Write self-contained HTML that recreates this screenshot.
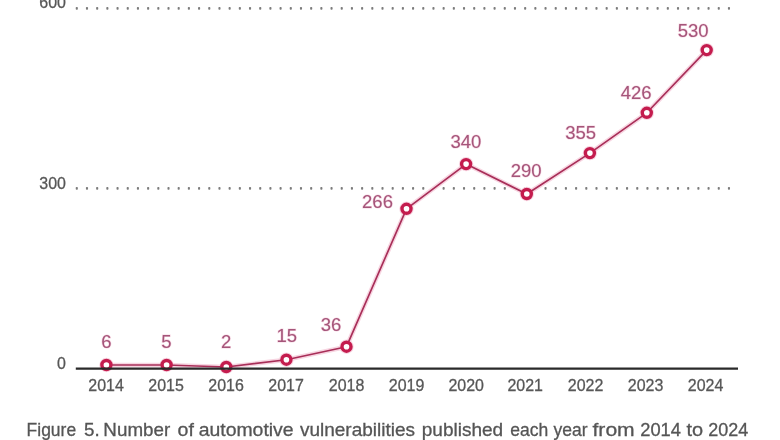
<!DOCTYPE html>
<html><head><meta charset="utf-8"><style>
html,body{margin:0;padding:0;background:#fff;width:780px;height:440px;overflow:hidden}
svg{display:block;font-family:"Liberation Sans",sans-serif}
#w{width:780px;height:440px;will-change:transform}
</style></head><body>
<div id="w"><svg width="780" height="440" viewBox="0 0 780 440">
<rect x="75.75" y="6.90" width="2.1" height="2.8" rx="0.8" fill="#7c7c7c"/>
<rect x="85.94" y="6.90" width="2.1" height="2.8" rx="0.8" fill="#7c7c7c"/>
<rect x="96.13" y="6.90" width="2.1" height="2.8" rx="0.8" fill="#7c7c7c"/>
<rect x="106.32" y="6.90" width="2.1" height="2.8" rx="0.8" fill="#7c7c7c"/>
<rect x="116.51" y="6.90" width="2.1" height="2.8" rx="0.8" fill="#7c7c7c"/>
<rect x="126.70" y="6.90" width="2.1" height="2.8" rx="0.8" fill="#7c7c7c"/>
<rect x="136.89" y="6.90" width="2.1" height="2.8" rx="0.8" fill="#7c7c7c"/>
<rect x="147.08" y="6.90" width="2.1" height="2.8" rx="0.8" fill="#7c7c7c"/>
<rect x="157.27" y="6.90" width="2.1" height="2.8" rx="0.8" fill="#7c7c7c"/>
<rect x="167.46" y="6.90" width="2.1" height="2.8" rx="0.8" fill="#7c7c7c"/>
<rect x="177.65" y="6.90" width="2.1" height="2.8" rx="0.8" fill="#7c7c7c"/>
<rect x="187.84" y="6.90" width="2.1" height="2.8" rx="0.8" fill="#7c7c7c"/>
<rect x="198.03" y="6.90" width="2.1" height="2.8" rx="0.8" fill="#7c7c7c"/>
<rect x="208.22" y="6.90" width="2.1" height="2.8" rx="0.8" fill="#7c7c7c"/>
<rect x="218.41" y="6.90" width="2.1" height="2.8" rx="0.8" fill="#7c7c7c"/>
<rect x="228.60" y="6.90" width="2.1" height="2.8" rx="0.8" fill="#7c7c7c"/>
<rect x="238.79" y="6.90" width="2.1" height="2.8" rx="0.8" fill="#7c7c7c"/>
<rect x="248.98" y="6.90" width="2.1" height="2.8" rx="0.8" fill="#7c7c7c"/>
<rect x="259.17" y="6.90" width="2.1" height="2.8" rx="0.8" fill="#7c7c7c"/>
<rect x="269.36" y="6.90" width="2.1" height="2.8" rx="0.8" fill="#7c7c7c"/>
<rect x="279.55" y="6.90" width="2.1" height="2.8" rx="0.8" fill="#7c7c7c"/>
<rect x="289.74" y="6.90" width="2.1" height="2.8" rx="0.8" fill="#7c7c7c"/>
<rect x="299.93" y="6.90" width="2.1" height="2.8" rx="0.8" fill="#7c7c7c"/>
<rect x="310.12" y="6.90" width="2.1" height="2.8" rx="0.8" fill="#7c7c7c"/>
<rect x="320.31" y="6.90" width="2.1" height="2.8" rx="0.8" fill="#7c7c7c"/>
<rect x="330.50" y="6.90" width="2.1" height="2.8" rx="0.8" fill="#7c7c7c"/>
<rect x="340.69" y="6.90" width="2.1" height="2.8" rx="0.8" fill="#7c7c7c"/>
<rect x="350.88" y="6.90" width="2.1" height="2.8" rx="0.8" fill="#7c7c7c"/>
<rect x="361.07" y="6.90" width="2.1" height="2.8" rx="0.8" fill="#7c7c7c"/>
<rect x="371.26" y="6.90" width="2.1" height="2.8" rx="0.8" fill="#7c7c7c"/>
<rect x="381.45" y="6.90" width="2.1" height="2.8" rx="0.8" fill="#7c7c7c"/>
<rect x="391.64" y="6.90" width="2.1" height="2.8" rx="0.8" fill="#7c7c7c"/>
<rect x="401.83" y="6.90" width="2.1" height="2.8" rx="0.8" fill="#7c7c7c"/>
<rect x="412.02" y="6.90" width="2.1" height="2.8" rx="0.8" fill="#7c7c7c"/>
<rect x="422.21" y="6.90" width="2.1" height="2.8" rx="0.8" fill="#7c7c7c"/>
<rect x="432.40" y="6.90" width="2.1" height="2.8" rx="0.8" fill="#7c7c7c"/>
<rect x="442.59" y="6.90" width="2.1" height="2.8" rx="0.8" fill="#7c7c7c"/>
<rect x="452.78" y="6.90" width="2.1" height="2.8" rx="0.8" fill="#7c7c7c"/>
<rect x="462.97" y="6.90" width="2.1" height="2.8" rx="0.8" fill="#7c7c7c"/>
<rect x="473.16" y="6.90" width="2.1" height="2.8" rx="0.8" fill="#7c7c7c"/>
<rect x="483.35" y="6.90" width="2.1" height="2.8" rx="0.8" fill="#7c7c7c"/>
<rect x="493.54" y="6.90" width="2.1" height="2.8" rx="0.8" fill="#7c7c7c"/>
<rect x="503.73" y="6.90" width="2.1" height="2.8" rx="0.8" fill="#7c7c7c"/>
<rect x="513.92" y="6.90" width="2.1" height="2.8" rx="0.8" fill="#7c7c7c"/>
<rect x="524.11" y="6.90" width="2.1" height="2.8" rx="0.8" fill="#7c7c7c"/>
<rect x="534.30" y="6.90" width="2.1" height="2.8" rx="0.8" fill="#7c7c7c"/>
<rect x="544.49" y="6.90" width="2.1" height="2.8" rx="0.8" fill="#7c7c7c"/>
<rect x="554.68" y="6.90" width="2.1" height="2.8" rx="0.8" fill="#7c7c7c"/>
<rect x="564.87" y="6.90" width="2.1" height="2.8" rx="0.8" fill="#7c7c7c"/>
<rect x="575.06" y="6.90" width="2.1" height="2.8" rx="0.8" fill="#7c7c7c"/>
<rect x="585.25" y="6.90" width="2.1" height="2.8" rx="0.8" fill="#7c7c7c"/>
<rect x="595.44" y="6.90" width="2.1" height="2.8" rx="0.8" fill="#7c7c7c"/>
<rect x="605.63" y="6.90" width="2.1" height="2.8" rx="0.8" fill="#7c7c7c"/>
<rect x="615.82" y="6.90" width="2.1" height="2.8" rx="0.8" fill="#7c7c7c"/>
<rect x="626.01" y="6.90" width="2.1" height="2.8" rx="0.8" fill="#7c7c7c"/>
<rect x="636.20" y="6.90" width="2.1" height="2.8" rx="0.8" fill="#7c7c7c"/>
<rect x="646.39" y="6.90" width="2.1" height="2.8" rx="0.8" fill="#7c7c7c"/>
<rect x="656.58" y="6.90" width="2.1" height="2.8" rx="0.8" fill="#7c7c7c"/>
<rect x="666.77" y="6.90" width="2.1" height="2.8" rx="0.8" fill="#7c7c7c"/>
<rect x="676.96" y="6.90" width="2.1" height="2.8" rx="0.8" fill="#7c7c7c"/>
<rect x="687.15" y="6.90" width="2.1" height="2.8" rx="0.8" fill="#7c7c7c"/>
<rect x="697.34" y="6.90" width="2.1" height="2.8" rx="0.8" fill="#7c7c7c"/>
<rect x="707.53" y="6.90" width="2.1" height="2.8" rx="0.8" fill="#7c7c7c"/>
<rect x="717.72" y="6.90" width="2.1" height="2.8" rx="0.8" fill="#7c7c7c"/>
<rect x="727.91" y="6.90" width="2.1" height="2.8" rx="0.8" fill="#7c7c7c"/>
<rect x="75.75" y="186.90" width="2.1" height="2.8" rx="0.8" fill="#7c7c7c"/>
<rect x="85.94" y="186.90" width="2.1" height="2.8" rx="0.8" fill="#7c7c7c"/>
<rect x="96.13" y="186.90" width="2.1" height="2.8" rx="0.8" fill="#7c7c7c"/>
<rect x="106.32" y="186.90" width="2.1" height="2.8" rx="0.8" fill="#7c7c7c"/>
<rect x="116.51" y="186.90" width="2.1" height="2.8" rx="0.8" fill="#7c7c7c"/>
<rect x="126.70" y="186.90" width="2.1" height="2.8" rx="0.8" fill="#7c7c7c"/>
<rect x="136.89" y="186.90" width="2.1" height="2.8" rx="0.8" fill="#7c7c7c"/>
<rect x="147.08" y="186.90" width="2.1" height="2.8" rx="0.8" fill="#7c7c7c"/>
<rect x="157.27" y="186.90" width="2.1" height="2.8" rx="0.8" fill="#7c7c7c"/>
<rect x="167.46" y="186.90" width="2.1" height="2.8" rx="0.8" fill="#7c7c7c"/>
<rect x="177.65" y="186.90" width="2.1" height="2.8" rx="0.8" fill="#7c7c7c"/>
<rect x="187.84" y="186.90" width="2.1" height="2.8" rx="0.8" fill="#7c7c7c"/>
<rect x="198.03" y="186.90" width="2.1" height="2.8" rx="0.8" fill="#7c7c7c"/>
<rect x="208.22" y="186.90" width="2.1" height="2.8" rx="0.8" fill="#7c7c7c"/>
<rect x="218.41" y="186.90" width="2.1" height="2.8" rx="0.8" fill="#7c7c7c"/>
<rect x="228.60" y="186.90" width="2.1" height="2.8" rx="0.8" fill="#7c7c7c"/>
<rect x="238.79" y="186.90" width="2.1" height="2.8" rx="0.8" fill="#7c7c7c"/>
<rect x="248.98" y="186.90" width="2.1" height="2.8" rx="0.8" fill="#7c7c7c"/>
<rect x="259.17" y="186.90" width="2.1" height="2.8" rx="0.8" fill="#7c7c7c"/>
<rect x="269.36" y="186.90" width="2.1" height="2.8" rx="0.8" fill="#7c7c7c"/>
<rect x="279.55" y="186.90" width="2.1" height="2.8" rx="0.8" fill="#7c7c7c"/>
<rect x="289.74" y="186.90" width="2.1" height="2.8" rx="0.8" fill="#7c7c7c"/>
<rect x="299.93" y="186.90" width="2.1" height="2.8" rx="0.8" fill="#7c7c7c"/>
<rect x="310.12" y="186.90" width="2.1" height="2.8" rx="0.8" fill="#7c7c7c"/>
<rect x="320.31" y="186.90" width="2.1" height="2.8" rx="0.8" fill="#7c7c7c"/>
<rect x="330.50" y="186.90" width="2.1" height="2.8" rx="0.8" fill="#7c7c7c"/>
<rect x="340.69" y="186.90" width="2.1" height="2.8" rx="0.8" fill="#7c7c7c"/>
<rect x="350.88" y="186.90" width="2.1" height="2.8" rx="0.8" fill="#7c7c7c"/>
<rect x="361.07" y="186.90" width="2.1" height="2.8" rx="0.8" fill="#7c7c7c"/>
<rect x="371.26" y="186.90" width="2.1" height="2.8" rx="0.8" fill="#7c7c7c"/>
<rect x="381.45" y="186.90" width="2.1" height="2.8" rx="0.8" fill="#7c7c7c"/>
<rect x="391.64" y="186.90" width="2.1" height="2.8" rx="0.8" fill="#7c7c7c"/>
<rect x="401.83" y="186.90" width="2.1" height="2.8" rx="0.8" fill="#7c7c7c"/>
<rect x="412.02" y="186.90" width="2.1" height="2.8" rx="0.8" fill="#7c7c7c"/>
<rect x="422.21" y="186.90" width="2.1" height="2.8" rx="0.8" fill="#7c7c7c"/>
<rect x="432.40" y="186.90" width="2.1" height="2.8" rx="0.8" fill="#7c7c7c"/>
<rect x="442.59" y="186.90" width="2.1" height="2.8" rx="0.8" fill="#7c7c7c"/>
<rect x="452.78" y="186.90" width="2.1" height="2.8" rx="0.8" fill="#7c7c7c"/>
<rect x="462.97" y="186.90" width="2.1" height="2.8" rx="0.8" fill="#7c7c7c"/>
<rect x="473.16" y="186.90" width="2.1" height="2.8" rx="0.8" fill="#7c7c7c"/>
<rect x="483.35" y="186.90" width="2.1" height="2.8" rx="0.8" fill="#7c7c7c"/>
<rect x="493.54" y="186.90" width="2.1" height="2.8" rx="0.8" fill="#7c7c7c"/>
<rect x="503.73" y="186.90" width="2.1" height="2.8" rx="0.8" fill="#7c7c7c"/>
<rect x="513.92" y="186.90" width="2.1" height="2.8" rx="0.8" fill="#7c7c7c"/>
<rect x="524.11" y="186.90" width="2.1" height="2.8" rx="0.8" fill="#7c7c7c"/>
<rect x="534.30" y="186.90" width="2.1" height="2.8" rx="0.8" fill="#7c7c7c"/>
<rect x="544.49" y="186.90" width="2.1" height="2.8" rx="0.8" fill="#7c7c7c"/>
<rect x="554.68" y="186.90" width="2.1" height="2.8" rx="0.8" fill="#7c7c7c"/>
<rect x="564.87" y="186.90" width="2.1" height="2.8" rx="0.8" fill="#7c7c7c"/>
<rect x="575.06" y="186.90" width="2.1" height="2.8" rx="0.8" fill="#7c7c7c"/>
<rect x="585.25" y="186.90" width="2.1" height="2.8" rx="0.8" fill="#7c7c7c"/>
<rect x="595.44" y="186.90" width="2.1" height="2.8" rx="0.8" fill="#7c7c7c"/>
<rect x="605.63" y="186.90" width="2.1" height="2.8" rx="0.8" fill="#7c7c7c"/>
<rect x="615.82" y="186.90" width="2.1" height="2.8" rx="0.8" fill="#7c7c7c"/>
<rect x="626.01" y="186.90" width="2.1" height="2.8" rx="0.8" fill="#7c7c7c"/>
<rect x="636.20" y="186.90" width="2.1" height="2.8" rx="0.8" fill="#7c7c7c"/>
<rect x="646.39" y="186.90" width="2.1" height="2.8" rx="0.8" fill="#7c7c7c"/>
<rect x="656.58" y="186.90" width="2.1" height="2.8" rx="0.8" fill="#7c7c7c"/>
<rect x="666.77" y="186.90" width="2.1" height="2.8" rx="0.8" fill="#7c7c7c"/>
<rect x="676.96" y="186.90" width="2.1" height="2.8" rx="0.8" fill="#7c7c7c"/>
<rect x="687.15" y="186.90" width="2.1" height="2.8" rx="0.8" fill="#7c7c7c"/>
<rect x="697.34" y="186.90" width="2.1" height="2.8" rx="0.8" fill="#7c7c7c"/>
<rect x="707.53" y="186.90" width="2.1" height="2.8" rx="0.8" fill="#7c7c7c"/>
<rect x="717.72" y="186.90" width="2.1" height="2.8" rx="0.8" fill="#7c7c7c"/>
<rect x="727.91" y="186.90" width="2.1" height="2.8" rx="0.8" fill="#7c7c7c"/>
<polyline fill="none" stroke="#f7d5e1" stroke-width="4.5" stroke-linejoin="round" points="106.4,365.0 166.6,365.0 226.3,367.0 286.4,359.7 346.5,346.7 406.5,208.8 466.1,164.1 526.8,194.0 589.9,153.1 646.8,112.8 706.7,50.1"/>
<circle cx="106.4" cy="365.0" r="7.2" fill="#f7d5e1"/>
<circle cx="166.6" cy="365.0" r="7.2" fill="#f7d5e1"/>
<circle cx="226.3" cy="367.0" r="7.2" fill="#f7d5e1"/>
<circle cx="286.4" cy="359.7" r="7.2" fill="#f7d5e1"/>
<circle cx="346.5" cy="346.7" r="7.2" fill="#f7d5e1"/>
<circle cx="406.5" cy="208.8" r="7.2" fill="#f7d5e1"/>
<circle cx="466.1" cy="164.1" r="7.2" fill="#f7d5e1"/>
<circle cx="526.8" cy="194.0" r="7.2" fill="#f7d5e1"/>
<circle cx="589.9" cy="153.1" r="7.2" fill="#f7d5e1"/>
<circle cx="646.8" cy="112.8" r="7.2" fill="#f7d5e1"/>
<circle cx="706.7" cy="50.1" r="7.2" fill="#f7d5e1"/>
<polyline fill="none" stroke="#a82e58" stroke-width="1.65" stroke-linejoin="round" points="106.4,365.0 166.6,365.0 226.3,367.0 286.4,359.7 346.5,346.7 406.5,208.8 466.1,164.1 526.8,194.0 589.9,153.1 646.8,112.8 706.7,50.1"/>
<circle cx="106.4" cy="365.0" r="4.5" fill="#fff" stroke="#c41c4e" stroke-width="3.4"/>
<circle cx="166.6" cy="365.0" r="4.5" fill="#fff" stroke="#c41c4e" stroke-width="3.4"/>
<circle cx="226.3" cy="367.0" r="4.5" fill="#fff" stroke="#c41c4e" stroke-width="3.4"/>
<circle cx="286.4" cy="359.7" r="4.5" fill="#fff" stroke="#c41c4e" stroke-width="3.4"/>
<circle cx="346.5" cy="346.7" r="4.5" fill="#fff" stroke="#c41c4e" stroke-width="3.4"/>
<circle cx="406.5" cy="208.8" r="4.5" fill="#fff" stroke="#c41c4e" stroke-width="3.4"/>
<circle cx="466.1" cy="164.1" r="4.5" fill="#fff" stroke="#c41c4e" stroke-width="3.4"/>
<circle cx="526.8" cy="194.0" r="4.5" fill="#fff" stroke="#c41c4e" stroke-width="3.4"/>
<circle cx="589.9" cy="153.1" r="4.5" fill="#fff" stroke="#c41c4e" stroke-width="3.4"/>
<circle cx="646.8" cy="112.8" r="4.5" fill="#fff" stroke="#c41c4e" stroke-width="3.4"/>
<circle cx="706.7" cy="50.1" r="4.5" fill="#fff" stroke="#c41c4e" stroke-width="3.4"/>
<line x1="75.8" y1="368.6" x2="738" y2="368.6" stroke="#2a2a2a" stroke-width="2.3"/>
<text x="106.5" y="347.8" text-anchor="middle" font-size="18.5" fill="#f7d9e4" stroke="#f7d9e4" stroke-width="1.2">6</text>
<text x="106.5" y="347.8" text-anchor="middle" font-size="18.5" fill="#a5557a" stroke="#a5557a" stroke-width="0.0">6</text>
<text x="166.4" y="348.3" text-anchor="middle" font-size="18.5" fill="#f7d9e4" stroke="#f7d9e4" stroke-width="1.2">5</text>
<text x="166.4" y="348.3" text-anchor="middle" font-size="18.5" fill="#a5557a" stroke="#a5557a" stroke-width="0.0">5</text>
<text x="226.1" y="348.3" text-anchor="middle" font-size="18.5" fill="#f7d9e4" stroke="#f7d9e4" stroke-width="1.2">2</text>
<text x="226.1" y="348.3" text-anchor="middle" font-size="18.5" fill="#a5557a" stroke="#a5557a" stroke-width="0.0">2</text>
<text x="286.8" y="342.3" text-anchor="middle" font-size="18.5" fill="#f7d9e4" stroke="#f7d9e4" stroke-width="1.2">15</text>
<text x="286.8" y="342.3" text-anchor="middle" font-size="18.5" fill="#a5557a" stroke="#a5557a" stroke-width="0.0">15</text>
<text x="331.0" y="331.1" text-anchor="middle" font-size="18.5" fill="#f7d9e4" stroke="#f7d9e4" stroke-width="1.2">36</text>
<text x="331.0" y="331.1" text-anchor="middle" font-size="18.5" fill="#a5557a" stroke="#a5557a" stroke-width="0.0">36</text>
<text x="377.5" y="208.2" text-anchor="middle" font-size="18.5" fill="#f7d9e4" stroke="#f7d9e4" stroke-width="1.2">266</text>
<text x="377.5" y="208.2" text-anchor="middle" font-size="18.5" fill="#a5557a" stroke="#a5557a" stroke-width="0.0">266</text>
<text x="465.9" y="148.0" text-anchor="middle" font-size="18.5" fill="#f7d9e4" stroke="#f7d9e4" stroke-width="1.2">340</text>
<text x="465.9" y="148.0" text-anchor="middle" font-size="18.5" fill="#a5557a" stroke="#a5557a" stroke-width="0.0">340</text>
<text x="526.2" y="176.6" text-anchor="middle" font-size="18.5" fill="#f7d9e4" stroke="#f7d9e4" stroke-width="1.2">290</text>
<text x="526.2" y="176.6" text-anchor="middle" font-size="18.5" fill="#a5557a" stroke="#a5557a" stroke-width="0.0">290</text>
<text x="580.7" y="138.8" text-anchor="middle" font-size="18.5" fill="#f7d9e4" stroke="#f7d9e4" stroke-width="1.2">355</text>
<text x="580.7" y="138.8" text-anchor="middle" font-size="18.5" fill="#a5557a" stroke="#a5557a" stroke-width="0.0">355</text>
<text x="636.1" y="98.8" text-anchor="middle" font-size="18.5" fill="#f7d9e4" stroke="#f7d9e4" stroke-width="1.2">426</text>
<text x="636.1" y="98.8" text-anchor="middle" font-size="18.5" fill="#a5557a" stroke="#a5557a" stroke-width="0.0">426</text>
<text x="693.2" y="37.3" text-anchor="middle" font-size="18.5" fill="#f7d9e4" stroke="#f7d9e4" stroke-width="1.2">530</text>
<text x="693.2" y="37.3" text-anchor="middle" font-size="18.5" fill="#a5557a" stroke="#a5557a" stroke-width="0.0">530</text>
<text transform="translate(106.1,391.0) scale(0.94,1)" text-anchor="middle" font-size="17" fill="#575757" stroke="#575757" stroke-width="0.3">2014</text>
<text transform="translate(166,391.0) scale(0.94,1)" text-anchor="middle" font-size="17" fill="#575757" stroke="#575757" stroke-width="0.3">2015</text>
<text transform="translate(226,391.0) scale(0.94,1)" text-anchor="middle" font-size="17" fill="#575757" stroke="#575757" stroke-width="0.3">2016</text>
<text transform="translate(286,391.0) scale(0.94,1)" text-anchor="middle" font-size="17" fill="#575757" stroke="#575757" stroke-width="0.3">2017</text>
<text transform="translate(346.5,391.0) scale(0.94,1)" text-anchor="middle" font-size="17" fill="#575757" stroke="#575757" stroke-width="0.3">2018</text>
<text transform="translate(406.5,391.0) scale(0.94,1)" text-anchor="middle" font-size="17" fill="#575757" stroke="#575757" stroke-width="0.3">2019</text>
<text transform="translate(466.2,391.0) scale(0.94,1)" text-anchor="middle" font-size="17" fill="#575757" stroke="#575757" stroke-width="0.3">2020</text>
<text transform="translate(525.2,391.0) scale(0.94,1)" text-anchor="middle" font-size="17" fill="#575757" stroke="#575757" stroke-width="0.3">2021</text>
<text transform="translate(585.6,391.0) scale(0.94,1)" text-anchor="middle" font-size="17" fill="#575757" stroke="#575757" stroke-width="0.3">2022</text>
<text transform="translate(645.5,391.0) scale(0.94,1)" text-anchor="middle" font-size="17" fill="#575757" stroke="#575757" stroke-width="0.3">2023</text>
<text transform="translate(705.5,391.0) scale(0.94,1)" text-anchor="middle" font-size="17" fill="#575757" stroke="#575757" stroke-width="0.3">2024</text>
<text transform="translate(65.9,8.3) scale(0.94,1)" text-anchor="end" font-size="17" fill="#575757" stroke="#575757" stroke-width="0.3">600</text>
<text transform="translate(65.9,188.8) scale(0.94,1)" text-anchor="end" font-size="17" fill="#575757" stroke="#575757" stroke-width="0.3">300</text>
<text transform="translate(65.9,368.8) scale(0.94,1)" text-anchor="end" font-size="17" fill="#575757" stroke="#575757" stroke-width="0.3">0</text>
<text x="26.6" y="436.3" font-size="18.5" fill="#555555" stroke="#555555" stroke-width="0.3" textLength="49.54" lengthAdjust="spacingAndGlyphs">Figure</text>
<text x="84.06" y="436.3" font-size="18.5" fill="#555555" stroke="#555555" stroke-width="0.3" textLength="15.68" lengthAdjust="spacingAndGlyphs">5.</text>
<text x="103.36" y="436.3" font-size="18.5" fill="#555555" stroke="#555555" stroke-width="0.3" textLength="66.84" lengthAdjust="spacingAndGlyphs">Number</text>
<text x="177.56" y="436.3" font-size="18.5" fill="#555555" stroke="#555555" stroke-width="0.3" textLength="16.3" lengthAdjust="spacingAndGlyphs">of</text>
<text x="198.66" y="436.3" font-size="18.5" fill="#555555" stroke="#555555" stroke-width="0.3" textLength="94.98" lengthAdjust="spacingAndGlyphs">automotive</text>
<text x="300.0" y="436.3" font-size="18.5" fill="#555555" stroke="#555555" stroke-width="0.3" textLength="115.0" lengthAdjust="spacingAndGlyphs">vulnerabilities</text>
<text x="421.8" y="436.3" font-size="18.5" fill="#555555" stroke="#555555" stroke-width="0.3" textLength="81.4" lengthAdjust="spacingAndGlyphs">published</text>
<text x="510.24" y="436.3" font-size="18.5" fill="#555555" stroke="#555555" stroke-width="0.3" textLength="37.96" lengthAdjust="spacingAndGlyphs">each</text>
<text x="553.44" y="436.3" font-size="18.5" fill="#555555" stroke="#555555" stroke-width="0.3" textLength="34.06" lengthAdjust="spacingAndGlyphs">year</text>
<text x="592.5" y="436.3" font-size="18.5" fill="#555555" stroke="#555555" stroke-width="0.3" textLength="42.2" lengthAdjust="spacingAndGlyphs">from</text>
<text x="640.24" y="436.3" font-size="18.5" fill="#555555" stroke="#555555" stroke-width="0.3" textLength="40.7" lengthAdjust="spacingAndGlyphs">2014</text>
<text x="686.56" y="436.3" font-size="18.5" fill="#555555" stroke="#555555" stroke-width="0.3" textLength="16.64" lengthAdjust="spacingAndGlyphs">to</text>
<text x="708.3" y="436.3" font-size="18.5" fill="#555555" stroke="#555555" stroke-width="0.3" textLength="40.0" lengthAdjust="spacingAndGlyphs">2024</text>
</svg></div>
</body></html>
